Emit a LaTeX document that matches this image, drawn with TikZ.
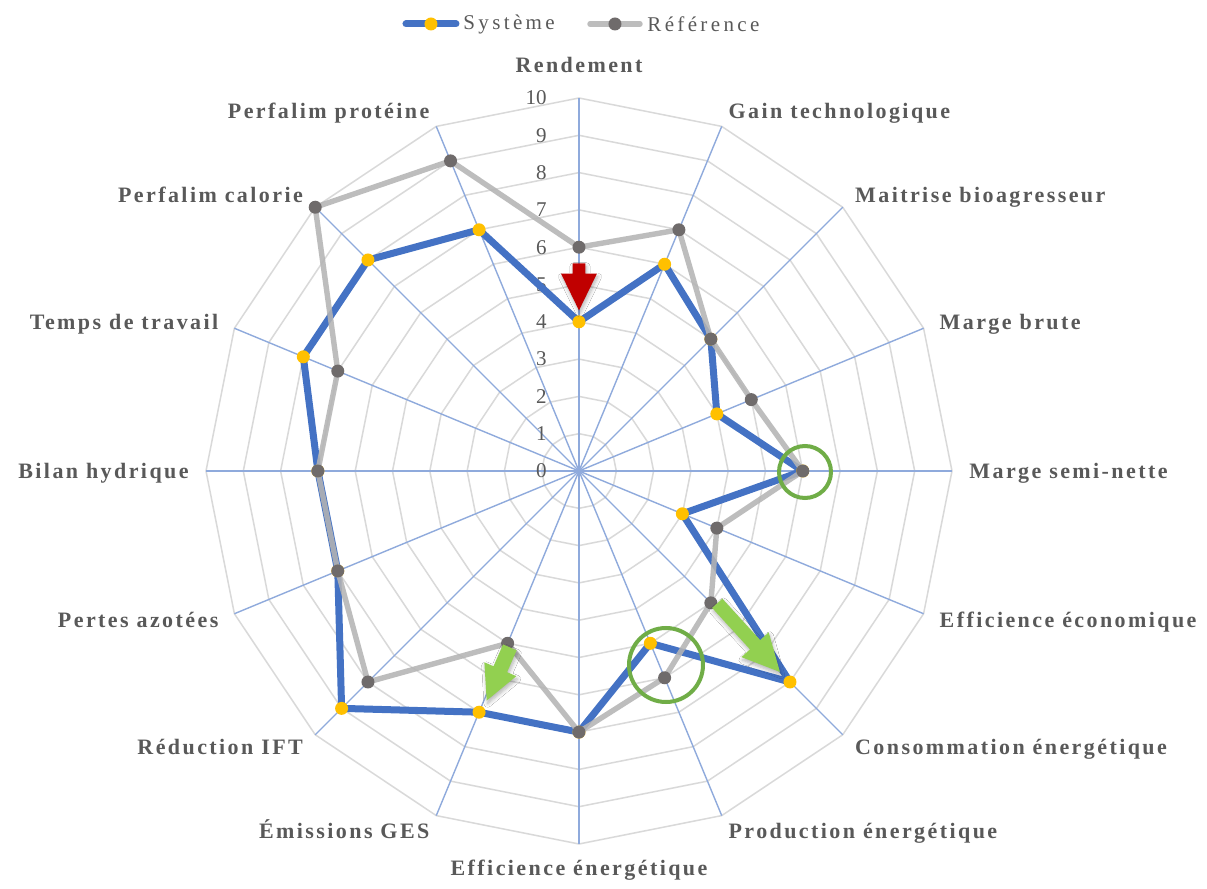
\documentclass[tikz,border=0pt]{standalone}
\usepackage{fontspec}
\setmainfont{Liberation Serif}
\usetikzlibrary{shapes.arrows, shadows.blur, calc}

\definecolor{gridgray}{HTML}{D9D9D9}
\definecolor{spokeblue}{HTML}{8FAADC}
\definecolor{sysblue}{HTML}{4472C4}
\definecolor{sysyellow}{HTML}{FFC000}
\definecolor{refgray}{HTML}{B4B4B4}
\definecolor{refdark}{HTML}{6F6B6B}
\definecolor{txtgray}{HTML}{595959}
\definecolor{cutred}{HTML}{C00000}
\definecolor{gaingreen}{HTML}{92D050}
\definecolor{ringgreen}{HTML}{70AD47}

% one score step on the chart, in px
\newcommand{\unitr}{37.3}

\begin{document}
\begin{tikzpicture}[x=0.5pt, y=0.5pt,
  gridline/.style={gridgray, line width=0.75pt},
  spoke/.style={spokeblue, line width=0.7pt},
  sysline/.style={sysblue, line width=3.5pt, line join=round, line cap=round},
  refline/.style={refgray, line width=2.7pt, line join=round, line cap=round, opacity=0.88},
  lbl/.style={txtgray, inner sep=0pt, font=\fontsize{11}{13}\selectfont\bfseries\addfontfeature{LetterSpace=11}},
  scalelbl/.style={txtgray, inner sep=0pt, anchor=east, font=\fontsize{10.5}{12}\selectfont},
  legtext/.style={txtgray, inner sep=0pt, anchor=west, font=\fontsize{10.5}{12}\selectfont\addfontfeature{LetterSpace=16}},
  blockarrow/.style={single arrow, draw=none, inner xsep=0pt, anchor=tail,
    blur shadow={shadow xshift=0.5pt, shadow yshift=-1.5pt, shadow blur steps=6, shadow opacity=30}},
  ring/.style={circle, draw=ringgreen, line width=2pt, inner sep=0pt}
]
\fill[white] (-579,-418) rectangle (628,471);
\useasboundingbox (-579,-418) rectangle (628,471);

% web
\coordinate (o) at (0,0);
\foreach \l in {1,...,10}
  \draw[gridline] (90:\l*\unitr) \foreach \i in {1,...,15} { -- ({90-22.5*\i}:\l*\unitr) } -- cycle;
\foreach \i in {0,...,15} {
  \coordinate (e\i) at ({90-22.5*\i}:10*\unitr);
  \draw[spoke] (o) -- (e\i);
}
\foreach \v in {0,...,10}
  \node[scalelbl] (sc\v) at (-32,\v*\unitr) {\v};

% axis names
\node[lbl, anchor=base] (lab0) at (0,398) {Rendement};
\node[lbl, anchor=base] (lab8) at (0,-404) {Efficience énergétique};
\foreach \i/\txt in {1/Gain technologique, 2/Maitrise bioagresseur, 3/Marge brute,
    4/Marge semi-nette, 5/Efficience économique, 6/Consommation énergétique,
    7/Production énergétique}
  \node[lbl, anchor=base west, yshift=-3.7pt] (lab\i) at ({90-22.5*\i}:390) {\txt};
\foreach \i/\txt in {9/Émissions GES, 10/Réduction IFT, 11/Pertes azotées,
    12/Bilan hydrique, 13/Temps de travail, 14/Perfalim calorie, 15/Perfalim protéine}
  \node[lbl, anchor=base east, yshift=-3.7pt] (lab\i) at ({90-22.5*\i}:390) {\txt};

% series
\foreach \v [count=\i from 0] in {4,6,5,4,6,3,8,5,7,7,9,7,7,8,8,7}
  \coordinate (s\i) at ({90-22.5*\i}:\v*\unitr);
\foreach \v [count=\i from 0] in {6,7,5,5,6,4,5,6,7,5,8,7,7,7,10,9}
  \coordinate (r\i) at ({90-22.5*\i}:\v*\unitr);

\draw[sysline] (s0) \foreach \i in {1,...,15} { -- (s\i) } -- cycle;
\foreach \i in {0,...,15}
  \fill[sysyellow] (s\i) circle (6.5);
\draw[refline] (r0) \foreach \i in {1,...,15} { -- (r\i) } -- cycle;
\foreach \i in {0,...,15}
  \fill[refdark] (r\i) circle (6.5);

% highlights
\node[blockarrow, fill=cutred, inner ysep=3pt, single arrow head extend=5.75pt,
  single arrow tip angle=52, minimum height=23.5pt, rotate=-90] (cutRend) at (0,208) {};
\node[blockarrow, fill=gaingreen, inner ysep=3.25pt, single arrow head extend=5.75pt,
  single arrow tip angle=53, minimum height=46.5pt, rotate=-47.6] (gainConso) at (138,-132) {};
\node[blockarrow, fill=gaingreen, inner ysep=3.5pt, single arrow head extend=5pt,
  single arrow tip angle=54, minimum height=29pt, rotate=-113.5] (gainGES) at (-69,-176) {};
\node[ring, minimum size=26pt] (ringMarge) at (226,-1) {};
\node[ring, minimum size=37pt] (ringProd) at (87,-194) {};

% legend
\coordinate (lsA) at (-173,447);
\coordinate (lsB) at (-123,447);
\draw[sysline] (lsA) -- (lsB);
\fill[sysyellow] ($(lsA)!0.5!(lsB)$) circle (6.5);
\node[legtext] (legSys) at (-116,447) {Système};
\coordinate (lrA) at (11,447);
\coordinate (lrB) at (61,447);
\draw[refline] (lrA) -- (lrB);
\fill[refdark] ($(lrA)!0.5!(lrB)$) circle (6.5);
\node[legtext] (legRef) at (68,447) {Référence};
\end{tikzpicture}
\end{document}
